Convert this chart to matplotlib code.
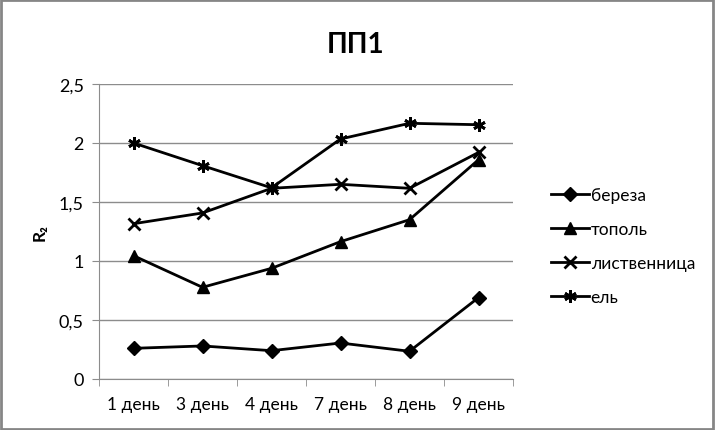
import matplotlib
matplotlib.use('Agg')
import matplotlib.pyplot as plt
from matplotlib.patches import Rectangle
from matplotlib.ticker import FuncFormatter

# данные
days = ['1 день', '3 день', '4 день', '7 день', '8 день', '9 день']
bereza = [0.26, 0.28, 0.24, 0.305, 0.235, 0.69]
topol = [1.045, 0.777, 0.938, 1.164, 1.35, 1.858]
listv = [1.316, 1.407, 1.616, 1.65, 1.616, 1.92]
el = [2.0, 1.808, 1.62, 2.034, 2.167, 2.155]
names = ['береза', 'тополь', 'лиственница', 'ель']

plt.rcParams['font.family'] = ['Lato', 'DejaVu Sans']

fig = plt.figure(figsize=(7.16, 4.31), dpi=100)
ax = fig.add_axes([99/716, 1-380/431, (513-99)/716, (380-85)/431])

x = list(range(len(days)))
ax.plot(x, bereza, color='black', lw=2, marker='D', ms=7, label=names[0])
ax.plot(x, topol, color='black', lw=2, marker='^', ms=9, label=names[1])
ax.plot(x, listv, color='black', lw=2, marker='x', ms=8, mew=2, label=names[2])
ax.plot(x, el, color='black', lw=2, marker=(6, 2, 0), ms=9, mew=2, label=names[3])

ax.set_xlim(-0.5, len(days)-0.5)
ax.set_ylim(0, 2.5)
ax.set_yticks([0, 0.5, 1, 1.5, 2, 2.5])
ax.yaxis.set_major_formatter(FuncFormatter(lambda v, p: ('%g' % v).replace('.', ',')))
ax.set_xticks(x)
ax.set_xticklabels(days, fontsize=12.5)
ax.set_xticks([i - 0.5 for i in range(len(days)+1)], minor=True)
ax.tick_params(axis='x', which='major', length=0, pad=12)
ax.tick_params(axis='x', which='minor', length=5, color='#8c8c8c')
ax.tick_params(axis='y', length=5, color='#8c8c8c', labelsize=13, pad=6)
ax.grid(axis='y', color='#8c8c8c', lw=1)
ax.set_axisbelow(True)
for s in ['top', 'right']:
    ax.spines[s].set_visible(False)
for s in ['left', 'bottom']:
    ax.spines[s].set_color('#8c8c8c')
ax.set_ylabel('R₂', fontsize=12.5, fontweight='bold', labelpad=8)

fig.text(356/716, 1-45/431, 'ПП1', fontsize=20, fontweight='bold', ha='center', va='center')

leg = fig.legend(loc='upper left', bbox_to_anchor=(535/716, 1-172/431), frameon=False,
                 fontsize=12.5, labelspacing=1.05, handlelength=2.2, handletextpad=0.1)

fig.patches.append(Rectangle((0.002, 0.003), 0.994, 0.994, transform=fig.transFigure,
                             fill=False, edgecolor='#868686', lw=2))

fig.savefig('out.png', dpi=100)
